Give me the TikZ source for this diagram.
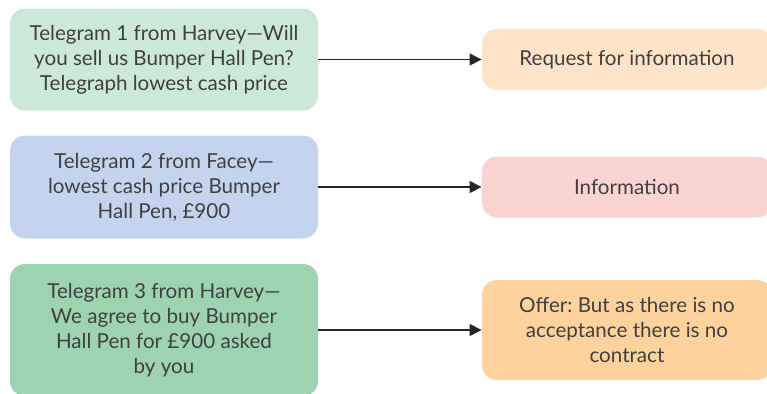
\documentclass[tikz,border=0pt]{standalone}
\usepackage{fontspec}
\setmainfont{Lato}
\usepackage{tikz}
\usetikzlibrary{arrows.meta}
\frenchspacing

\definecolor{mintbox}{HTML}{CCE8D8}
\definecolor{bluebox}{HTML}{C5D4EE}
\definecolor{greenbox}{HTML}{9DD4AF}
\definecolor{peachbox}{HTML}{FDE3C8}
\definecolor{pinkbox}{HTML}{F9D4D1}
\definecolor{orangebox}{HTML}{FDD29C}
\definecolor{inktext}{HTML}{404040}

\begin{document}
\begin{tikzpicture}[x=0.5pt,y=-0.5pt,
  telegram/.style={rounded corners=7.5pt,minimum width=154pt,align=center,
    text=inktext,font=\fontsize{10.3}{12.6}\selectfont},
  result/.style={rounded corners=7.5pt,minimum width=145pt,align=center,
    text=inktext,font=\fontsize{10.3}{12.6}\selectfont},
  link/.style={-{Triangle[length=6pt,width=6pt]},line width=0.65pt,black!85}]
\useasboundingbox (0,0) rectangle (767,393);

% telegrams
\node[telegram,fill=mintbox,minimum height=51pt] (tel1) at (164,59.5)
  {Telegram 1 from Harvey---Will\\you sell us Bumper Hall Pen?\\Telegraph lowest cash price};
\node[telegram,fill=bluebox,minimum height=51.5pt] (tel2) at (164,187)
  {Telegram 2 from Facey---\\lowest cash price Bumper\\Hall Pen, £900};
\node[telegram,fill=greenbox,minimum height=66pt] (tel3) at (164,330)
  {Telegram 3 from Harvey---\\We agree to buy Bumper\\Hall Pen for £900 asked\\by you};

% what each one is
\node[result,fill=peachbox,minimum height=30.5pt] (res1) at (627,59.5) {Request for information};
\node[result,fill=pinkbox,minimum height=30.5pt] (res2) at (627,187) {Information};
\node[result,fill=orangebox,minimum height=50pt] (res3) at (627,330)
  {Offer: But as there is no\\acceptance there is no\\contract};

\draw[link] (tel1) -- (res1);
\draw[link] (tel2) -- (res2);
\draw[link] (tel3) -- (res3);

\end{tikzpicture}
\end{document}
